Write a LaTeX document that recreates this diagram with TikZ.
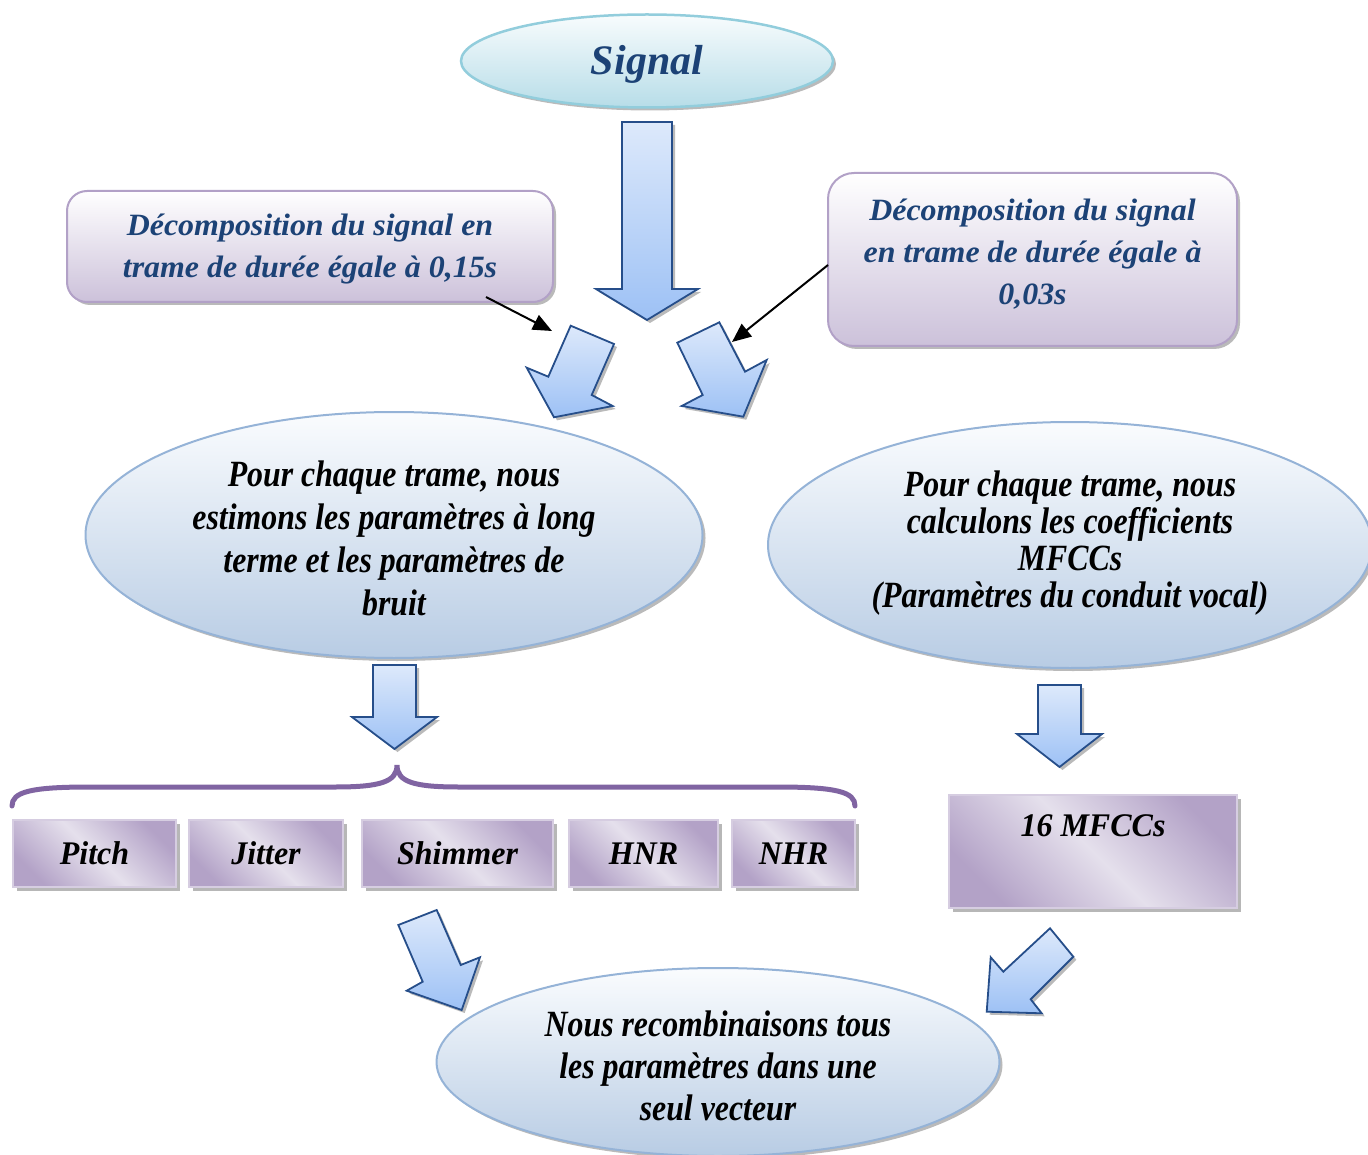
\documentclass[tikz,border=0pt]{standalone}
\usepackage{fontspec}
\setmainfont{Liberation Serif}
\newfontfamily\ellfont[FakeStretch=0.86]{Liberation Serif}
\newfontfamily\boxfont[FakeStretch=1.03]{Liberation Serif}
\newfontfamily\parfont[FakeStretch=0.97]{Liberation Serif}
\usetikzlibrary{shapes.geometric,shadows,arrows.meta,calc}

\definecolor{txtblue}{RGB}{28,66,118}
\definecolor{ellborder}{RGB}{149,179,215}
\definecolor{elltop}{RGB}{250,252,254}
\definecolor{ellbot}{RGB}{184,204,228}
\definecolor{sigborder}{RGB}{146,205,220}
\definecolor{sigtop}{RGB}{248,252,253}
\definecolor{sigbot}{RGB}{183,221,232}
\definecolor{lavborder}{RGB}{178,161,199}
\definecolor{lavdark}{RGB}{179,162,199}
\definecolor{lavlight}{RGB}{229,224,236}
\definecolor{lavbot}{RGB}{204,193,218}
\definecolor{arrtop}{RGB}{221,233,251}
\definecolor{arrbot}{RGB}{157,193,245}
\definecolor{arrborder}{RGB}{38,78,138}
\definecolor{bracecol}{RGB}{128,100,162}

\tikzset{
  shad/.style={drop shadow={shadow xshift=3pt, shadow yshift=-3pt, fill=black!45, opacity=.6}},
  ell/.style={ellipse, draw=ellborder, line width=2pt, top color=elltop, bottom color=ellbot,
    shad, inner sep=0pt},
  elltext/.style={align=center, inner sep=0pt, text=black,
    font=\ellfont\bfseries\itshape\fontsize{37}{43}\selectfont},
  sigell/.style={ellipse, draw=sigborder, line width=2.5pt, top color=sigtop, bottom color=sigbot,
    shad, inner sep=0pt},
  sigtext/.style={inner sep=0pt, text=txtblue, font=\bfseries\itshape\fontsize{42}{50}\selectfont},
  rbox/.style={rectangle, rounded corners=20pt, draw=lavborder, line width=2pt,
    top color=white, bottom color=lavbot, shad, inner sep=0pt},
  boxtext/.style={align=center, inner sep=0pt, text=txtblue,
    font=\boxfont\bfseries\itshape\fontsize{31}{42}\selectfont},
  parbox/.style={rectangle, draw=lavlight!70!lavborder, line width=1.5pt,
    top color=lavdark, bottom color=lavdark, middle color=lavlight, shading angle=-45,
    drop shadow={shadow xshift=4pt, shadow yshift=-4pt, fill=black!40, opacity=.7},
    inner sep=0pt, minimum height=67pt, text=black,
    font=\parfont\bfseries\itshape\fontsize{33}{40}\selectfont},
  blockarrow/.style={draw=arrborder, line width=1.8pt, line join=miter,
    top color=arrtop, bottom color=arrbot, shad},
  blk/.style={line width=2pt, -{Triangle[length=19pt,width=16pt]}},
  bracestyle/.style={draw=bracecol, line width=5pt, line cap=round}
}

\begin{document}
\begin{tikzpicture}[x=1pt,y=-1pt]
\useasboundingbox (0,0) rectangle (1368,1155);

% top ellipse
\node[sigell, minimum width=372pt, minimum height=93pt,
  label={[sigtext, yshift=-3pt]center:Signal}] (sig) at (647,61) {};

% decomposition boxes
\node[rbox, minimum width=486pt, minimum height=111pt,
  label={[boxtext, yshift=-3pt]center:{Décomposition du signal en\\trame de durée égale à 0,15s}}] (lbox) at (310,246.5) {};
\node[rbox, minimum width=409pt, minimum height=173pt, rounded corners=26pt,
  label={[boxtext, yshift=5pt]center:{Décomposition du signal\\en trame de durée égale à\\0,03s}}] (rbox) at (1032.5,259.5) {};

% big down arrow
\draw[blockarrow] (622,122) -- (672,122) -- (672,289) -- (698,289) -- (647,320) -- (596,289) -- (622,289) -- cycle;

% tilted arrows
\draw[blockarrow] (570.7,325.7) -- (614,344) -- (591.7,395) -- (612.7,406) -- (554,417.3) -- (526.7,367.7) -- (548.3,376.7) -- cycle;
\draw[blockarrow] (677.3,342.7) -- (719.3,322.3) -- (745,371.7) -- (766.7,360) -- (743.3,416.7) -- (681.7,406) -- (702.7,395) -- cycle;
\coordinate (t1) at (552,331);
\coordinate (t2) at (732,342);

% black pointer arrows
\draw[blk] ($(lbox.south east)+(-68,-6)$) -- (t1);
\draw[blk] ($(rbox.west)+(1,5.5)$) -- (t2);

% middle ellipses
\node[ell, minimum width=617pt, minimum height=246pt,
  label={[elltext, yshift=-3pt]center:{Pour chaque trame, nous\\estimons les paramètres à long\\terme et les paramètres de\\bruit}}] (lell) at (394,535) {};
\node[ell, minimum width=604pt, minimum height=246pt,
  label={[elltext, yshift=1.5pt, font=\ellfont\bfseries\itshape\fontsize{37}{37}\selectfont]center:{Pour chaque trame, nous\\calculons les coefficients\\MFCCs\\(Paramètres du conduit vocal)}}] (rell) at (1070,545) {};

% down arrows
\draw[blockarrow] (373,665) -- (416,665) -- (416,717) -- (437,717) -- (394.5,749) -- (352,717) -- (373,717) -- cycle;
\draw[blockarrow] (1038,685) -- (1081,685) -- (1081,734) -- (1102,734) -- (1059.5,767) -- (1017,734) -- (1038,734) -- cycle;

% brace
\draw[bracestyle] (12,806) .. controls (12,792) and (30,787) .. (90,787) -- (335,787)
  .. controls (380,787) and (397,782) .. (397,765)
  .. controls (397,782) and (414,787) .. (459,787) -- (777,787)
  .. controls (837,787) and (855,792) .. (855,806);

% parameter boxes
\node[parbox, minimum width=163pt] (pitch) at (94.5,853.5) {Pitch};
\node[parbox, minimum width=154pt] (jitter) at (266,853.5) {Jitter};
\node[parbox, minimum width=191pt] (shimmer) at (457.5,853.5) {Shimmer};
\node[parbox, minimum width=149pt] (hnr) at (643.5,853.5) {HNR};
\node[parbox, minimum width=123pt] (nhr) at (793.5,853.5) {NHR};

% MFCC box
\node[parbox, minimum width=288pt, minimum height=113pt,
  label={[anchor=north, inner sep=0pt, yshift=-20pt, text=black,
          font=\parfont\bfseries\itshape\fontsize{33}{40}\selectfont]north:16 MFCCs}] (mfcc) at (1093,851.5) {};

% bottom tilted arrows
\draw[blockarrow] (398.3,925) -- (436.7,910) -- (460.7,965) -- (480,957.3) -- (461.7,1010) -- (406.7,990.7) -- (422.7,981.7) -- cycle;
\draw[blockarrow] (1050,928.3) -- (1073.3,956.7) -- (1030.7,999.3) -- (1041.7,1013.3) -- (986.7,1011.7) -- (990.7,957.3) -- (1003.3,971.7) -- cycle;

% bottom ellipse
\node[ell, minimum width=563pt, minimum height=188pt,
  label={[elltext, yshift=-4pt, font=\ellfont\bfseries\itshape\fontsize{37}{42}\selectfont]center:{Nous recombinaisons tous\\les paramètres dans une\\seul vecteur}}] (bell) at (718,1062) {};
\end{tikzpicture}
\end{document}
